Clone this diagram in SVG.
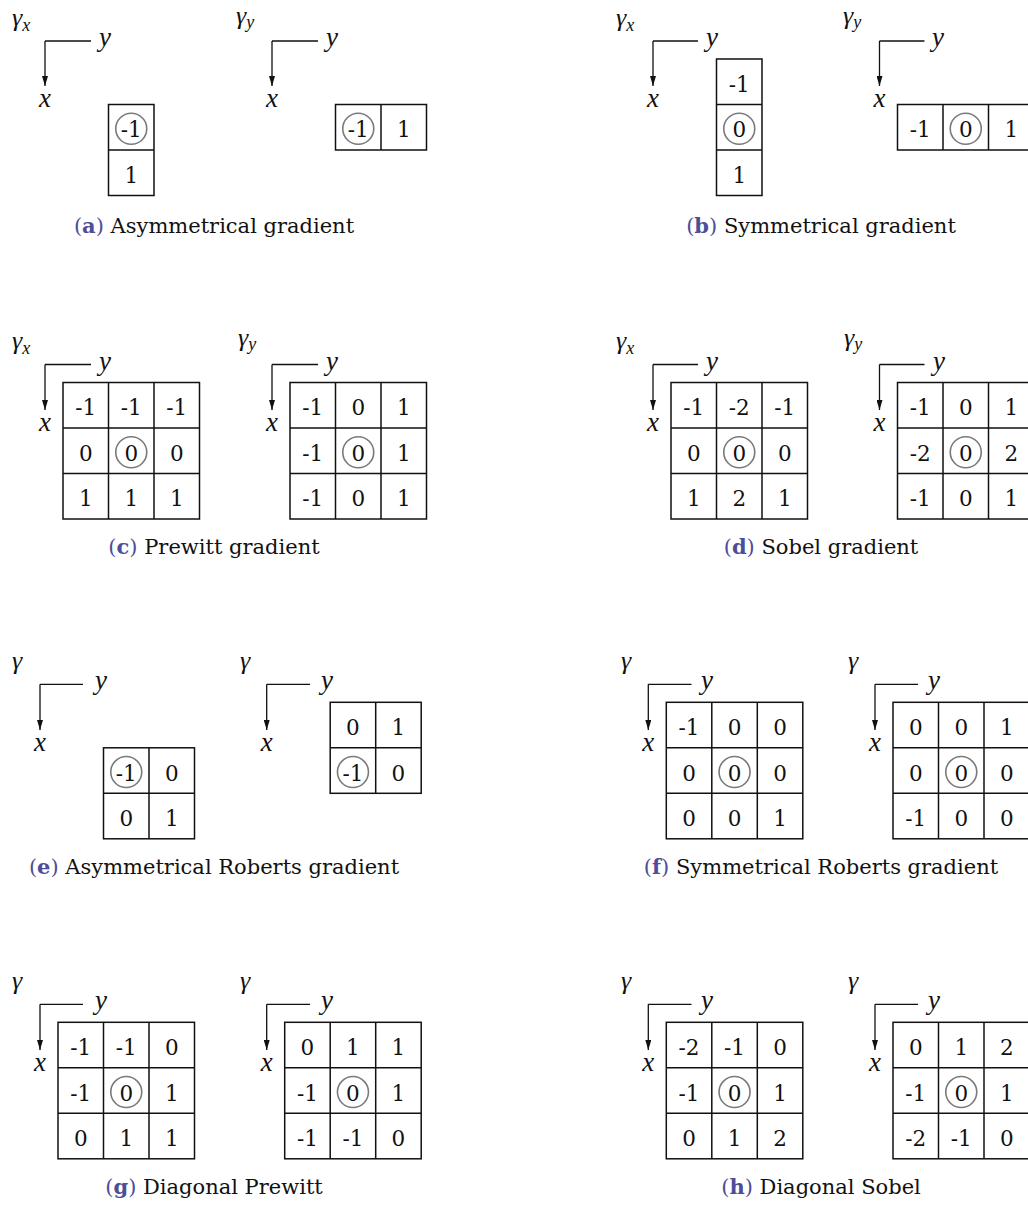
<svg xmlns="http://www.w3.org/2000/svg" width="1028" height="1205" viewBox="0 0 1028 1205">
<defs>
<style>
.g{fill:none;stroke:#111;stroke-width:1.5}
.o{fill:none;stroke:#7a7a7a;stroke-width:1.6}
.n{font-family:"DejaVu Serif","Liberation Serif",serif;font-size:21.5px;text-anchor:middle;fill:#111}
.m{font-family:"Liberation Serif","DejaVu Serif",serif;font-style:italic;font-size:27px;fill:#111}
.gm{font-size:26px}
.s{font-size:18px}
.ax{fill:none;stroke:#111;stroke-width:1.3;marker-end:url(#ah)}
.cap{font-family:"DejaVu Serif","Liberation Serif",serif;font-size:21px;text-anchor:middle;fill:#111}
.lab{fill:#4d4d99}
.b{font-weight:bold}
</style>
<marker id="ah" viewBox="0 0 10 6" refX="10" refY="3" markerWidth="10" markerHeight="6" markerUnits="userSpaceOnUse" orient="auto"><path d="M0,0 L10,3 L0,6 z" fill="#111"/></marker>
</defs>
<rect width="1028" height="1205" fill="#fff"/>

<g id="connectors">
<path class="ax" d="M45,41H91M45,41V86"/>
<path class="ax" d="M272,41H318M272,41V86"/>
<path class="ax" d="M653,41H698M653,41V86"/>
<path class="ax" d="M879.5,41H924.5M879.5,41V86"/>
<path class="ax" d="M45,364.5H91M45,364.5V410"/>
<path class="ax" d="M272,364.5H318M272,364.5V410"/>
<path class="ax" d="M653,364.5H698M653,364.5V410"/>
<path class="ax" d="M879.5,364.5H924.5M879.5,364.5V410"/>
<path class="ax" d="M40,684.3H83M40,684.3V730"/>
<path class="ax" d="M266.7,684.3H310M266.7,684.3V730"/>
<path class="ax" d="M648.3,684.3H691.5M648.3,684.3V730"/>
<path class="ax" d="M875,684.3H918M875,684.3V730"/>
<path class="ax" d="M40,1004.3H83M40,1004.3V1050"/>
<path class="ax" d="M266.7,1004.3H310M266.7,1004.3V1050"/>
<path class="ax" d="M648.3,1004.3H691.5M648.3,1004.3V1050"/>
<path class="ax" d="M875,1004.3H918M875,1004.3V1050"/>
</g>

<!-- (a) -->
<g id="a-left">
<text class="m" x="12" y="25.5"><tspan class="gm">γ</tspan><tspan class="s" dy="5">x</tspan></text>
<text class="m" x="99" y="46">y</text>
<text class="m" x="45" y="107" text-anchor="middle">x</text>
<g transform="translate(63,59)">
<rect class="g" x="45.5" y="45.5" width="45.5" height="91"/><path class="g" d="M45.5,91H91"/>
<circle class="o" cx="68.25" cy="69.75" r="15.5"/>
<text class="n" x="68.25" y="78.25">-1</text><text class="n" x="68.25" y="123.75">1</text>
</g>
</g>
<g id="a-right">
<text class="m" x="236" y="24"><tspan class="gm">γ</tspan><tspan class="s" dy="4">y</tspan></text>
<text class="m" x="326" y="46">y</text>
<text class="m" x="272" y="107" text-anchor="middle">x</text>
<g transform="translate(290,59)">
<rect class="g" x="45.5" y="45.5" width="91" height="45.5"/><path class="g" d="M91,45.5V91"/>
<circle class="o" cx="68.25" cy="69.75" r="15.5"/>
<text class="n" x="68.25" y="78.25">-1</text><text class="n" x="113.75" y="78.25">1</text>
</g>
</g>
<text class="cap" x="214" y="233"><tspan class="lab">(<tspan class="b">a</tspan>)</tspan> Asymmetrical gradient</text>

<!-- (b) -->
<g id="b-left">
<text class="m" x="616" y="25.5"><tspan class="gm">γ</tspan><tspan class="s" dy="5">x</tspan></text>
<text class="m" x="706" y="46">y</text>
<text class="m" x="653" y="107" text-anchor="middle">x</text>
<g transform="translate(671,59)">
<rect class="g" x="45.5" y="0" width="45.5" height="136.5"/><path class="g" d="M45.5,45.5H91M45.5,91H91"/>
<circle class="o" cx="68.25" cy="69.75" r="15.5"/>
<text class="n" x="68.25" y="32.75">-1</text><text class="n" x="68.25" y="78.25">0</text><text class="n" x="68.25" y="123.75">1</text>
</g>
</g>
<g id="b-right">
<text class="m" x="843" y="24"><tspan class="gm">γ</tspan><tspan class="s" dy="4">y</tspan></text>
<text class="m" x="932" y="46">y</text>
<text class="m" x="879.5" y="107" text-anchor="middle">x</text>
<g transform="translate(897.5,59)">
<rect class="g" x="0" y="45.5" width="136.5" height="45.5"/><path class="g" d="M45.5,45.5V91M91,45.5V91"/>
<circle class="o" cx="68.25" cy="69.75" r="15.5"/>
<text class="n" x="22.75" y="78.25">-1</text><text class="n" x="68.25" y="78.25">0</text><text class="n" x="113.75" y="78.25">1</text>
</g>
</g>
<text class="cap" x="821" y="233"><tspan class="lab">(<tspan class="b">b</tspan>)</tspan> Symmetrical gradient</text>

<!-- (c) -->
<g id="c-left">
<text class="m" x="12" y="348.5"><tspan class="gm">γ</tspan><tspan class="s" dy="5">x</tspan></text>
<text class="m" x="99" y="369.5">y</text>
<text class="m" x="45" y="430.5" text-anchor="middle">x</text>
<g transform="translate(63,382.5)">
<rect class="g" width="136.5" height="136.5"/><path class="g" d="M45.5,0V136.5M91,0V136.5M0,45.5H136.5M0,91H136.5"/>
<circle class="o" cx="68.25" cy="69.75" r="15.5"/>
<text class="n" x="22.75" y="32.75">-1</text><text class="n" x="68.25" y="32.75">-1</text><text class="n" x="113.75" y="32.75">-1</text>
<text class="n" x="22.75" y="78.25">0</text><text class="n" x="68.25" y="78.25">0</text><text class="n" x="113.75" y="78.25">0</text>
<text class="n" x="22.75" y="123.75">1</text><text class="n" x="68.25" y="123.75">1</text><text class="n" x="113.75" y="123.75">1</text>
</g>
</g>
<g id="c-right">
<text class="m" x="238" y="346"><tspan class="gm">γ</tspan><tspan class="s" dy="4">y</tspan></text>
<text class="m" x="326" y="369.5">y</text>
<text class="m" x="272" y="430.5" text-anchor="middle">x</text>
<g transform="translate(290,382.5)">
<rect class="g" width="136.5" height="136.5"/><path class="g" d="M45.5,0V136.5M91,0V136.5M0,45.5H136.5M0,91H136.5"/>
<circle class="o" cx="68.25" cy="69.75" r="15.5"/>
<text class="n" x="22.75" y="32.75">-1</text><text class="n" x="68.25" y="32.75">0</text><text class="n" x="113.75" y="32.75">1</text>
<text class="n" x="22.75" y="78.25">-1</text><text class="n" x="68.25" y="78.25">0</text><text class="n" x="113.75" y="78.25">1</text>
<text class="n" x="22.75" y="123.75">-1</text><text class="n" x="68.25" y="123.75">0</text><text class="n" x="113.75" y="123.75">1</text>
</g>
</g>
<text class="cap" x="214" y="554"><tspan class="lab">(<tspan class="b">c</tspan>)</tspan> Prewitt gradient</text>

<!-- (d) -->
<g id="d-left">
<text class="m" x="616" y="348.5"><tspan class="gm">γ</tspan><tspan class="s" dy="5">x</tspan></text>
<text class="m" x="706" y="369.5">y</text>
<text class="m" x="653" y="430.5" text-anchor="middle">x</text>
<g transform="translate(671,382.5)">
<rect class="g" width="136.5" height="136.5"/><path class="g" d="M45.5,0V136.5M91,0V136.5M0,45.5H136.5M0,91H136.5"/>
<circle class="o" cx="68.25" cy="69.75" r="15.5"/>
<text class="n" x="22.75" y="32.75">-1</text><text class="n" x="68.25" y="32.75">-2</text><text class="n" x="113.75" y="32.75">-1</text>
<text class="n" x="22.75" y="78.25">0</text><text class="n" x="68.25" y="78.25">0</text><text class="n" x="113.75" y="78.25">0</text>
<text class="n" x="22.75" y="123.75">1</text><text class="n" x="68.25" y="123.75">2</text><text class="n" x="113.75" y="123.75">1</text>
</g>
</g>
<g id="d-right">
<text class="m" x="844" y="346"><tspan class="gm">γ</tspan><tspan class="s" dy="4">y</tspan></text>
<text class="m" x="933" y="369.5">y</text>
<text class="m" x="879.5" y="430.5" text-anchor="middle">x</text>
<g transform="translate(897.5,382.5)">
<rect class="g" width="136.5" height="136.5"/><path class="g" d="M45.5,0V136.5M91,0V136.5M0,45.5H136.5M0,91H136.5"/>
<circle class="o" cx="68.25" cy="69.75" r="15.5"/>
<text class="n" x="22.75" y="32.75">-1</text><text class="n" x="68.25" y="32.75">0</text><text class="n" x="113.75" y="32.75">1</text>
<text class="n" x="22.75" y="78.25">-2</text><text class="n" x="68.25" y="78.25">0</text><text class="n" x="113.75" y="78.25">2</text>
<text class="n" x="22.75" y="123.75">-1</text><text class="n" x="68.25" y="123.75">0</text><text class="n" x="113.75" y="123.75">1</text>
</g>
</g>
<text class="cap" x="821" y="554"><tspan class="lab">(<tspan class="b">d</tspan>)</tspan> Sobel gradient</text>

<!-- (e) -->
<g id="e-left">
<text class="m gm" x="12" y="669">γ</text>
<text class="m" x="95" y="689">y</text>
<text class="m" x="40" y="750.5" text-anchor="middle">x</text>
<g transform="translate(58,702.3)">
<rect class="g" x="45.5" y="45.5" width="91" height="91"/><path class="g" d="M91,45.5V136.5M45.5,91H136.5"/>
<circle class="o" cx="68.25" cy="69.75" r="15.5"/>
<text class="n" x="68.25" y="78.25">-1</text><text class="n" x="113.75" y="78.25">0</text>
<text class="n" x="68.25" y="123.75">0</text><text class="n" x="113.75" y="123.75">1</text>
</g>
</g>
<g id="e-right">
<text class="m gm" x="240" y="669">γ</text>
<text class="m" x="321" y="689">y</text>
<text class="m" x="266.7" y="750.5" text-anchor="middle">x</text>
<g transform="translate(284.7,702.3)">
<rect class="g" x="45.5" y="0" width="91" height="91"/><path class="g" d="M91,0V91M45.5,45.5H136.5"/>
<circle class="o" cx="68.25" cy="69.75" r="15.5"/>
<text class="n" x="68.25" y="32.75">0</text><text class="n" x="113.75" y="32.75">1</text>
<text class="n" x="68.25" y="78.25">-1</text><text class="n" x="113.75" y="78.25">0</text>
</g>
</g>
<text class="cap" x="214" y="874"><tspan class="lab">(<tspan class="b">e</tspan>)</tspan> Asymmetrical Roberts gradient</text>

<!-- (f) -->
<g id="f-left">
<text class="m gm" x="621" y="669">γ</text>
<text class="m" x="701" y="689">y</text>
<text class="m" x="648.3" y="750.5" text-anchor="middle">x</text>
<g transform="translate(666.3,702.3)">
<rect class="g" width="136.5" height="136.5"/><path class="g" d="M45.5,0V136.5M91,0V136.5M0,45.5H136.5M0,91H136.5"/>
<circle class="o" cx="68.25" cy="69.75" r="15.5"/>
<text class="n" x="22.75" y="32.75">-1</text><text class="n" x="68.25" y="32.75">0</text><text class="n" x="113.75" y="32.75">0</text>
<text class="n" x="22.75" y="78.25">0</text><text class="n" x="68.25" y="78.25">0</text><text class="n" x="113.75" y="78.25">0</text>
<text class="n" x="22.75" y="123.75">0</text><text class="n" x="68.25" y="123.75">0</text><text class="n" x="113.75" y="123.75">1</text>
</g>
</g>
<g id="f-right">
<text class="m gm" x="848" y="669">γ</text>
<text class="m" x="928" y="689">y</text>
<text class="m" x="875" y="750.5" text-anchor="middle">x</text>
<g transform="translate(893,702.3)">
<rect class="g" width="136.5" height="136.5"/><path class="g" d="M45.5,0V136.5M91,0V136.5M0,45.5H136.5M0,91H136.5"/>
<circle class="o" cx="68.25" cy="69.75" r="15.5"/>
<text class="n" x="22.75" y="32.75">0</text><text class="n" x="68.25" y="32.75">0</text><text class="n" x="113.75" y="32.75">1</text>
<text class="n" x="22.75" y="78.25">0</text><text class="n" x="68.25" y="78.25">0</text><text class="n" x="113.75" y="78.25">0</text>
<text class="n" x="22.75" y="123.75">-1</text><text class="n" x="68.25" y="123.75">0</text><text class="n" x="113.75" y="123.75">0</text>
</g>
</g>
<text class="cap" x="821" y="874"><tspan class="lab">(<tspan class="b">f</tspan>)</tspan> Symmetrical Roberts gradient</text>

<!-- (g) -->
<g id="g-left">
<text class="m gm" x="12" y="989">γ</text>
<text class="m" x="95" y="1009">y</text>
<text class="m" x="40" y="1070.5" text-anchor="middle">x</text>
<g transform="translate(58,1022.3)">
<rect class="g" width="136.5" height="136.5"/><path class="g" d="M45.5,0V136.5M91,0V136.5M0,45.5H136.5M0,91H136.5"/>
<circle class="o" cx="68.25" cy="69.75" r="15.5"/>
<text class="n" x="22.75" y="32.75">-1</text><text class="n" x="68.25" y="32.75">-1</text><text class="n" x="113.75" y="32.75">0</text>
<text class="n" x="22.75" y="78.25">-1</text><text class="n" x="68.25" y="78.25">0</text><text class="n" x="113.75" y="78.25">1</text>
<text class="n" x="22.75" y="123.75">0</text><text class="n" x="68.25" y="123.75">1</text><text class="n" x="113.75" y="123.75">1</text>
</g>
</g>
<g id="g-right">
<text class="m gm" x="240" y="989">γ</text>
<text class="m" x="321" y="1009">y</text>
<text class="m" x="266.7" y="1070.5" text-anchor="middle">x</text>
<g transform="translate(284.7,1022.3)">
<rect class="g" width="136.5" height="136.5"/><path class="g" d="M45.5,0V136.5M91,0V136.5M0,45.5H136.5M0,91H136.5"/>
<circle class="o" cx="68.25" cy="69.75" r="15.5"/>
<text class="n" x="22.75" y="32.75">0</text><text class="n" x="68.25" y="32.75">1</text><text class="n" x="113.75" y="32.75">1</text>
<text class="n" x="22.75" y="78.25">-1</text><text class="n" x="68.25" y="78.25">0</text><text class="n" x="113.75" y="78.25">1</text>
<text class="n" x="22.75" y="123.75">-1</text><text class="n" x="68.25" y="123.75">-1</text><text class="n" x="113.75" y="123.75">0</text>
</g>
</g>
<text class="cap" x="214" y="1194"><tspan class="lab">(<tspan class="b">g</tspan>)</tspan> Diagonal Prewitt</text>

<!-- (h) -->
<g id="h-left">
<text class="m gm" x="621" y="989">γ</text>
<text class="m" x="701" y="1009">y</text>
<text class="m" x="648.3" y="1070.5" text-anchor="middle">x</text>
<g transform="translate(666.3,1022.3)">
<rect class="g" width="136.5" height="136.5"/><path class="g" d="M45.5,0V136.5M91,0V136.5M0,45.5H136.5M0,91H136.5"/>
<circle class="o" cx="68.25" cy="69.75" r="15.5"/>
<text class="n" x="22.75" y="32.75">-2</text><text class="n" x="68.25" y="32.75">-1</text><text class="n" x="113.75" y="32.75">0</text>
<text class="n" x="22.75" y="78.25">-1</text><text class="n" x="68.25" y="78.25">0</text><text class="n" x="113.75" y="78.25">1</text>
<text class="n" x="22.75" y="123.75">0</text><text class="n" x="68.25" y="123.75">1</text><text class="n" x="113.75" y="123.75">2</text>
</g>
</g>
<g id="h-right">
<text class="m gm" x="848" y="989">γ</text>
<text class="m" x="928" y="1009">y</text>
<text class="m" x="875" y="1070.5" text-anchor="middle">x</text>
<g transform="translate(893,1022.3)">
<rect class="g" width="136.5" height="136.5"/><path class="g" d="M45.5,0V136.5M91,0V136.5M0,45.5H136.5M0,91H136.5"/>
<circle class="o" cx="68.25" cy="69.75" r="15.5"/>
<text class="n" x="22.75" y="32.75">0</text><text class="n" x="68.25" y="32.75">1</text><text class="n" x="113.75" y="32.75">2</text>
<text class="n" x="22.75" y="78.25">-1</text><text class="n" x="68.25" y="78.25">0</text><text class="n" x="113.75" y="78.25">1</text>
<text class="n" x="22.75" y="123.75">-2</text><text class="n" x="68.25" y="123.75">-1</text><text class="n" x="113.75" y="123.75">0</text>
</g>
</g>
<text class="cap" x="821" y="1194"><tspan class="lab">(<tspan class="b">h</tspan>)</tspan> Diagonal Sobel</text>
</svg>
